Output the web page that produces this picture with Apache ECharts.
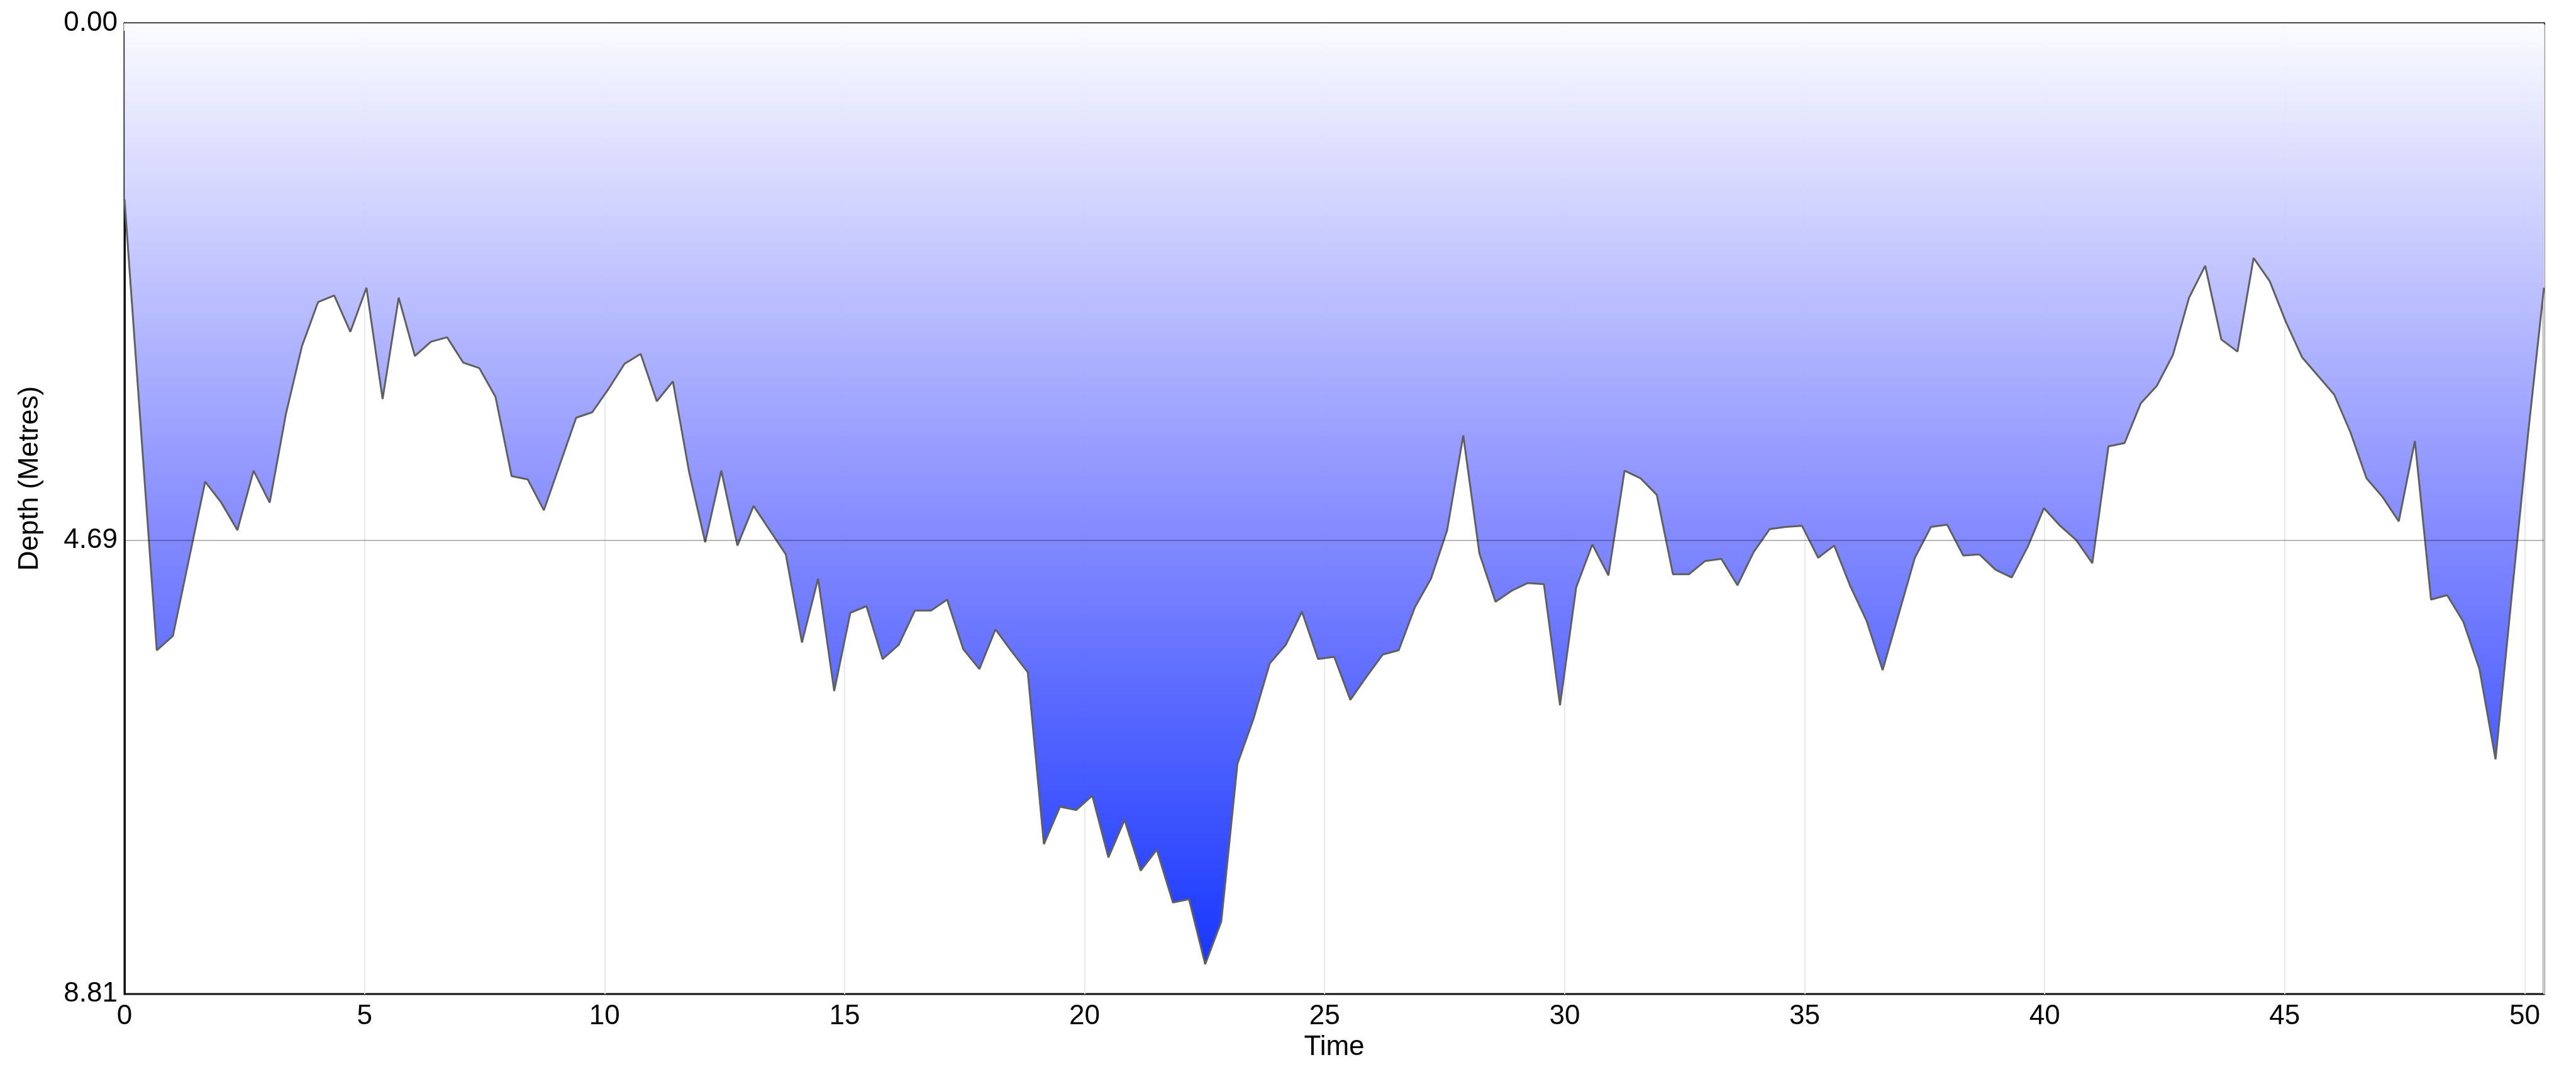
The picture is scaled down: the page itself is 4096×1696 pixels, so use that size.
<!DOCTYPE html>
<html>
<head>
<meta charset="utf-8">
<script src="https://cdn.jsdelivr.net/npm/echarts@6/dist/echarts.min.js"></script>
<style>
html,body{margin:0;padding:0;background:#ffffff;}
#chart{width:4096px;height:1696px;}
</style>
</head>
<body>
<div id="chart"></div>
<script>
// Depth readings (metres), one per sample, sampled every timeStep
const depth = [
  1.60, 3.65, 5.69, 5.56, 4.86, 4.16, 4.35, 4.60, 4.06, 4.35,
  3.55, 2.93, 2.53, 2.47, 2.80, 2.40, 3.41, 2.49, 3.02, 2.89,
  2.85, 3.08, 3.13, 3.39, 4.11, 4.14, 4.42, 4.00, 3.58, 3.53,
  3.32, 3.09, 3.00, 3.43, 3.25, 4.07, 4.71, 4.06, 4.74, 4.38,
  4.60, 4.82, 5.62, 5.04, 6.06, 5.35, 5.29, 5.77, 5.64, 5.33,
  5.33, 5.23, 5.68, 5.86, 5.50, 5.70, 5.89, 7.45, 7.11, 7.14,
  7.01, 7.57, 7.23, 7.69, 7.50, 7.98, 7.95, 8.54, 8.15, 6.72,
  6.31, 5.81, 5.64, 5.34, 5.77, 5.75, 6.14, 5.93, 5.73, 5.69,
  5.30, 5.04, 4.60, 3.74, 4.81, 5.25, 5.15, 5.08, 5.09, 6.19,
  5.12, 4.73, 5.01, 4.06, 4.13, 4.28, 5.00, 5.00, 4.88, 4.86,
  5.10, 4.80, 4.59, 4.57, 4.56, 4.85, 4.74, 5.11, 5.42, 5.87,
  5.36, 4.85, 4.57, 4.55, 4.83, 4.82, 4.96, 5.03, 4.75, 4.40,
  4.56, 4.69, 4.90, 3.84, 3.81, 3.45, 3.29, 3.01, 2.49, 2.20,
  2.87, 2.98, 2.13, 2.34, 2.71, 3.03, 3.20, 3.37, 3.71, 4.13,
  4.30, 4.52, 3.79, 5.23, 5.19, 5.43, 5.86, 6.68, 5.20, 3.75,
  2.40
];
const timeStep = 0.336;          // sample spacing on the Time axis
const timeMax = 50.4;            // end of the Time axis
const xTickLabels = [0, 5, 10, 15, 20, 25, 30, 35, 40, 45, 50];
const yTickLabels = [0.00, 4.69, 8.81];
const depthMax = 8.81;
const refDepth = 4.69;

const seriesData = depth.map((d, i) => [+(i * timeStep).toFixed(3), d]);

const chart = echarts.init(document.getElementById('chart'), null, {renderer: 'canvas'});
const FONT = 'Liberation Sans, Arial, Helvetica, sans-serif';

chart.setOption({
  animation: false,
  backgroundColor: '#ffffff',
  grid: {
    left: 198, top: 37, right: 51, bottom: 116,
    show: true, borderColor: '#111111', borderWidth: 3,
    backgroundColor: '#ffffff'
  },
  xAxis: {
    type: 'value',
    min: 0, max: timeMax, interval: 5,
    name: 'Time',
    nameLocation: 'middle',
    nameGap: 62,
    nameTextStyle: {fontFamily: FONT, fontSize: 44, color: '#000000'},
    axisLine: {show: true, lineStyle: {color: '#111111', width: 3}},
    axisTick: {show: true, length: 12, lineStyle: {color: '#dddddd', width: 2}},
    axisLabel: {
      fontFamily: FONT, fontSize: 44, color: '#000000', margin: 14,
      showMaxLabel: false,
      formatter: v => (xTickLabels.indexOf(v) >= 0 ? String(v) : '')
    },
    splitLine: {show: true, lineStyle: {color: '#e8e8ee', width: 2}}
  },
  yAxis: {
    type: 'value',
    inverse: true,
    min: 0, max: depthMax,
    name: 'Depth (Metres)',
    nameLocation: 'middle',
    nameRotate: 90,
    nameGap: 128,
    nameTextStyle: {fontFamily: FONT, fontSize: 44, color: '#000000', padding: [0, 0, 0, 96]},
    axisLine: {show: true, lineStyle: {color: '#111111', width: 3}},
    axisTick: {show: false},
    axisLabel: {
      fontFamily: FONT, fontSize: 44, color: '#000000', margin: 11,
      customValues: yTickLabels,
      formatter: v => Number(v).toFixed(2)
    },
    splitLine: {show: false}
  },
  series: [{
    type: 'line',
    data: seriesData,
    symbol: 'none',
    smooth: false,
    lineStyle: {color: '#606060', width: 3},
    areaStyle: {
      origin: 'start',
      opacity: 0.96,
      color: new echarts.graphic.LinearGradient(0, 37, 0, 1580, [
        {offset: 0, color: '#fbfbff'},
        {offset: 0.53, color: '#7d84ff'},
        {offset: 1, color: '#0628ff'}
      ], true)
    },
    markLine: {
      silent: true,
      symbol: ['none', 'none'],
      label: {show: false},
      lineStyle: {color: 'rgba(0,0,0,0.28)', width: 2, type: 'solid'},
      data: [{yAxis: refDepth}]
    }
  }]
});
</script>
</body>
</html>
